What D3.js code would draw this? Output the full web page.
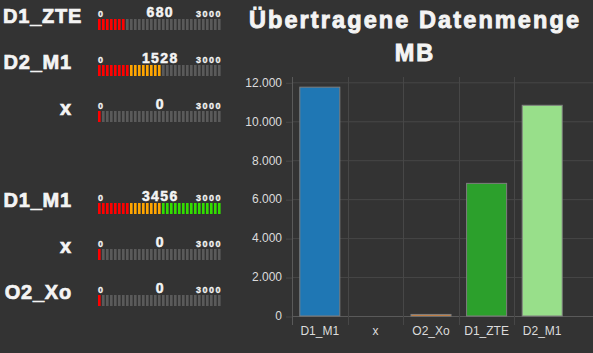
<!DOCTYPE html>
<meta charset="utf-8">
<style>
    body { margin: 0; background: #333333; }
    svg { display: block; }
    .gauge text { font-family: "Liberation Sans", Arial, sans-serif; font-weight: bold; fill: #f4f4f4; stroke: #f4f4f4; }
    .chart text { font-family: "Liberation Sans", Arial, sans-serif; fill: #dcdcdc; font-size: 12px; }
</style>
<body>
<div id="chart"></div>
<script src="https://d3js.org/d3.v7.min.js"></script>
<script>
// gauges (left column)
var gaugeNames = ["D1_ZTE", "D2_M1", "x", "D1_M1", "x", "O2_Xo"];
var gaugeValues = [680, 1528, 0, 3456, 0, 0];
var gaugeSlots = [0, 1, 2, 4, 5, 6];
var gaugeMin = 0, gaugeMax = 3000, gaugeStep = 100;

// bar chart (right)
var categories = ["D1_M1", "x", "O2_Xo", "D1_ZTE", "D2_M1"];
var volumes = [11750, 0, 80, 6810, 10820];
var barColors = ["#1f77b4", "#aec7e8", "#ff7f0e", "#2ca02c", "#98df8a"];
var yTicks = [0, 2000, 4000, 6000, 8000, 10000, 12000];
var titleLines = ["Übertragene Datenmenge", "MB"];

var width = 593, height = 353;

var svg = d3.select("#chart").append("svg")
    .attr("width", width)
    .attr("height", height);

// ---- gauges ----
var segX = d3.scaleLinear().domain([gaugeMin, gaugeMax]).range([98, 218]);
var segColor = d3.scaleThreshold().domain([800, 1600]).range(["#ff0000", "#ffa500", "#33dd00"]);
var segs = d3.range(gaugeMin, gaugeMax + 1, gaugeStep);
var rowH = 46;

var gauges = svg.append("g").attr("class", "gauge")
    .selectAll("g")
    .data(gaugeNames.map(function(n, i) { return {name: n, value: gaugeValues[i], slot: gaugeSlots[i]}; }))
    .enter().append("g")
    .attr("transform", function(d) { return "translate(0," + (d.slot * rowH) + ")"; });

gauges.append("text")
    .attr("y", 23)
    .style("font-size", "20px")
    .style("letter-spacing", "0.8px")
    .style("stroke-width", 0.7)
    .text(function(d) { return d.name; })
    .each(function() {
        // right aligned in a 68px box, overflowing to the right when too long
        var w = this.getComputedTextLength();
        if (w > 70) d3.select(this).attr("x", 3);
        else d3.select(this).attr("x", 72).attr("text-anchor", "end");
    });

gauges.append("text")
    .attr("x", segX(gaugeMin))
    .attr("y", 16.5)
    .style("font-size", "9px")
    .style("letter-spacing", "1.5px")
    .style("stroke-width", 0.3)
    .text(gaugeMin);

gauges.append("text")
    .attr("x", segX(gaugeMax) + 4)
    .attr("y", 16.5)
    .attr("text-anchor", "end")
    .style("font-size", "9px")
    .style("letter-spacing", "1.5px")
    .style("stroke-width", 0.3)
    .text(gaugeMax);

gauges.append("text")
    .attr("x", (segX(gaugeMin) + segX(gaugeMax) + 2.5) / 2 + 1)
    .attr("y", 16.5)
    .attr("text-anchor", "middle")
    .style("font-size", "14px")
    .style("letter-spacing", "1.4px")
    .style("stroke-width", 0.5)
    .text(function(d) { return d.value; });

gauges.each(function(d) {
    d3.select(this).selectAll("rect")
        .data(segs)
        .enter().append("rect")
        .attr("x", function(s) { return segX(s); })
        .attr("y", 19)
        .attr("width", 2.6)
        .attr("height", 11)
        .style("fill", function(s) { return s <= d.value ? segColor(s) : "#5a5a5a"; });
});

// ---- bar chart ----
var chart = svg.append("g").attr("class", "chart");

var x = d3.scaleBand().domain(categories).range([292, 570]);
var y = d3.scaleLinear().domain([0, 12000]).range([316, 82.3]);

var de = d3.formatLocale({decimal: ",", thousands: ".", grouping: [3], currency: ["", " €"]});
var fmt = de.format(",");

chart.selectAll(".hgrid")
    .data(yTicks)
    .enter().append("line")
    .attr("class", "hgrid")
    .attr("x1", 292).attr("x2", width)
    .attr("y1", function(d) { return y(d) + 0.5; })
    .attr("y2", function(d) { return y(d) + 0.5; })
    .style("stroke", function(d) { return d === 0 ? "#5a5a5a" : "#474747"; })
    .style("stroke-width", 1);

chart.selectAll(".vgrid")
    .data(categories)
    .enter().append("line")
    .attr("class", "vgrid")
    .attr("x1", function(d) { return Math.round(x(d)) + 0.5; })
    .attr("x2", function(d) { return Math.round(x(d)) + 0.5; })
    .attr("y1", 77).attr("y2", 325)
    .style("stroke", function(d, i) { return i === 0 ? "#5a5a5a" : "#474747"; })
    .style("stroke-width", 1);

var yAxis = chart.append("g")
    .attr("transform", "translate(292,0)")
    .call(d3.axisLeft(y).tickValues(yTicks).tickFormat(fmt).tickSize(6).tickPadding(4));
yAxis.select(".domain").remove();
yAxis.selectAll("line").attr("transform", "translate(0,0.5)").style("stroke", "#474747");
yAxis.selectAll("text").style("fill", "#dcdcdc").style("font-size", "12px")
    .style("font-family", "'Liberation Sans', Arial, sans-serif");

var xAxis = chart.append("g")
    .attr("transform", "translate(0,316)")
    .call(d3.axisBottom(x).tickSize(0).tickPadding(10.5));
xAxis.select(".domain").remove();
xAxis.selectAll("text").style("fill", "#dcdcdc").style("font-size", "12px")
    .style("font-family", "'Liberation Sans', Arial, sans-serif");

var bw = x.bandwidth() * 0.72;
chart.selectAll(".bar")
    .data(categories.map(function(c, i) { return {cat: c, v: volumes[i], color: barColors[i]}; })
        .filter(function(d) { return d.v > 0; }))
    .enter().append("rect")
    .attr("class", "bar")
    .attr("x", function(d) { return x(d.cat) + (x.bandwidth() - bw) / 2; })
    .attr("y", function(d) { return y(d.v); })
    .attr("width", bw)
    .attr("height", function(d) { return y(0) - y(d.v); })
    .style("fill", function(d) { return d.color; })
    .style("stroke", "#7f7f7f")
    .style("stroke-width", 1);

chart.selectAll(".title")
    .data(titleLines)
    .enter().append("text")
    .attr("class", "title")
    .attr("x", 415)
    .attr("y", function(d, i) { return 28 + i * 33; })
    .attr("text-anchor", "middle")
    .style("font-family", "'Liberation Sans', Arial, sans-serif")
    .style("font-weight", "bold")
    .style("font-size", "23.5px")
    .style("letter-spacing", "2.1px")
    .style("fill", "#f4f4f4")
    .style("stroke", "#f4f4f4")
    .style("stroke-width", 0.9)
    .text(function(d) { return d; });
</script>
</body>
</html>
